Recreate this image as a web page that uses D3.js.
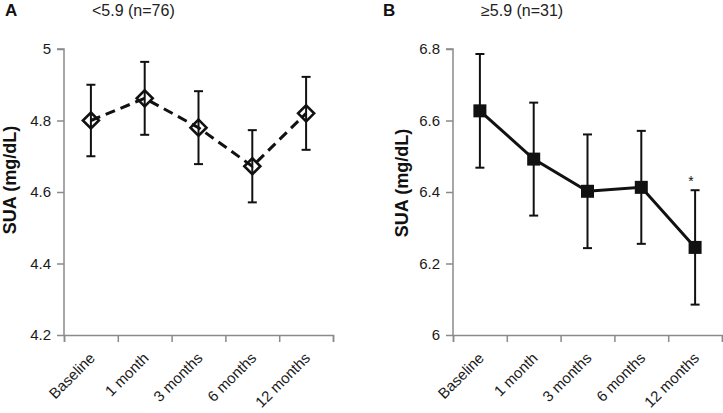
<!DOCTYPE html>
<html><head><meta charset="utf-8">
<script src="https://cdn.jsdelivr.net/npm/d3@7"></script>
<style>
html,body{margin:0;padding:0;background:#fff;}
svg{display:block;font-family:"Liberation Sans",Arial,sans-serif;}
</style></head>
<body><svg id="c" width="723" height="413"></svg>
<script>
const categories = ["Baseline","1 month","3 months","6 months","12 months"];
// Panel A: <5.9 (n=76)
const meanA = [4.80, 4.862, 4.78, 4.672, 4.82];
const errA  = [0.10, 0.102, 0.102, 0.101, 0.102];
const ticksA = [4.2, 4.4, 4.6, 4.8, 5.0];
// Panel B: >=5.9 (n=31)
const meanB = [6.627, 6.492, 6.402, 6.413, 6.245];
const errB  = [0.159, 0.158, 0.159, 0.158, 0.160];
const ticksB = [6.0, 6.2, 6.4, 6.6, 6.8];
const sigB = ["", "", "", "", "*"];

const svg = d3.select("#c");
const axisCol = "#8a8a8a", ink = "#111";

function panel(opt){
  const g = svg.append("g");
  const x = d3.scaleLinear().domain([0, categories.length]).range([opt.x0, opt.x1]);
  const y = d3.scaleLinear().domain([opt.ticks[0], opt.ticks[opt.ticks.length-1]]).range([335, 49]);

  const ya = g.append("g").attr("transform",`translate(${opt.x0},0)`)
    .call(d3.axisLeft(y).tickValues(opt.ticks).tickSize(7).tickPadding(6)
      .tickFormat(d => String(+d.toFixed(1))));
  const xa = g.append("g").attr("transform",`translate(0,335)`)
    .call(d3.axisBottom(x).tickValues(d3.range(categories.length+1)).tickSize(7).tickFormat(""));
  [ya, xa].forEach(a => {
    a.select(".domain").attr("stroke", axisCol).attr("stroke-width", 1.5);
    a.selectAll(".tick line").attr("stroke", axisCol).attr("stroke-width", 1.5);
    a.selectAll("text").attr("font-size", 15).attr("fill", "#1a1a1a")
      .attr("font-family", '"Liberation Sans",Arial,sans-serif');
  });
  ya.select(".domain").attr("d", `M-7,${y.range()[1]}H0V${y.range()[0]}`);

  g.selectAll(".xl").data(categories).join("text")
    .attr("transform", (d,i) => `translate(${x(i+0.5)+5},359) rotate(-45)`)
    .attr("text-anchor","end").attr("font-size",15).attr("fill","#1a1a1a").text(d => d);

  g.append("text").attr("transform",`translate(${opt.labX},${opt.labY}) rotate(-90)`)
    .attr("text-anchor","middle").attr("font-size",18).attr("font-weight","bold")
    .attr("fill","#111").text("SUA (mg/dL)");

  g.append("text").attr("x", opt.letterX).attr("y", 16).attr("font-size",17)
    .attr("font-weight","bold").attr("fill","#111").text(opt.letter);
  g.append("text").attr("x", opt.x0 + 28).attr("y", 16).attr("font-size",16)
    .attr("fill","#222").text(opt.title);

  const cx = i => x(i+0.5);
  g.append("path").datum(opt.mean)
    .attr("d", d3.line().x((d,i)=>cx(i)).y(d=>y(d)))
    .attr("fill","none").attr("stroke", ink).attr("stroke-width",3)
    .attr("stroke-dasharray", opt.dashed ? "10,6" : null);
  opt.mean.forEach((m,i) => {
    const e = opt.err[i];
    g.append("line").attr("x1",cx(i)).attr("x2",cx(i)).attr("y1",y(m+e)).attr("y2",y(m-e))
      .attr("stroke",ink).attr("stroke-width",2);
    [m+e, m-e].forEach(v => g.append("line").attr("x1",cx(i)-4.5).attr("x2",cx(i)+4.5)
      .attr("y1",y(v)).attr("y2",y(v)).attr("stroke",ink).attr("stroke-width",2));
  });
  if (opt.marker === "diamond") {
    g.selectAll(".mk").data(opt.mean).join("path")
      .attr("d", (d,i) => { const X=cx(i),Y=y(d),r=8; return `M${X},${Y-r}L${X+r},${Y}L${X},${Y+r}L${X-r},${Y}Z`; })
      .attr("fill","none").attr("stroke",ink).attr("stroke-width",2.6);
  } else {
    g.selectAll(".mk").data(opt.mean).join("rect")
      .attr("x",(d,i)=>cx(i)-6.5).attr("y",d=>y(d)-6.5).attr("width",13).attr("height",13)
      .attr("fill",ink);
  }
  if (opt.sig) {
    g.selectAll(".sig").data(opt.sig).join("text")
      .attr("x",(d,i)=>cx(i)-4).attr("y",(d,i)=>y(opt.mean[i]+opt.err[i])-4)
      .attr("text-anchor","middle").attr("font-size",14).attr("fill","#111").text(d=>d);
  }
}

panel({x0:64, x1:333, ticks:ticksA, mean:meanA, err:errA, marker:"diamond", dashed:true,
  letter:"A", letterX:5, title:"<5.9 (n=76)", labX:16, labY:180});
panel({x0:453, x1:722, ticks:ticksB, mean:meanB, err:errB, marker:"square", dashed:false,
  letter:"B", letterX:383, title:"≥5.9 (n=31)", labX:408, labY:183, sig:sigB});
</script></body></html>
